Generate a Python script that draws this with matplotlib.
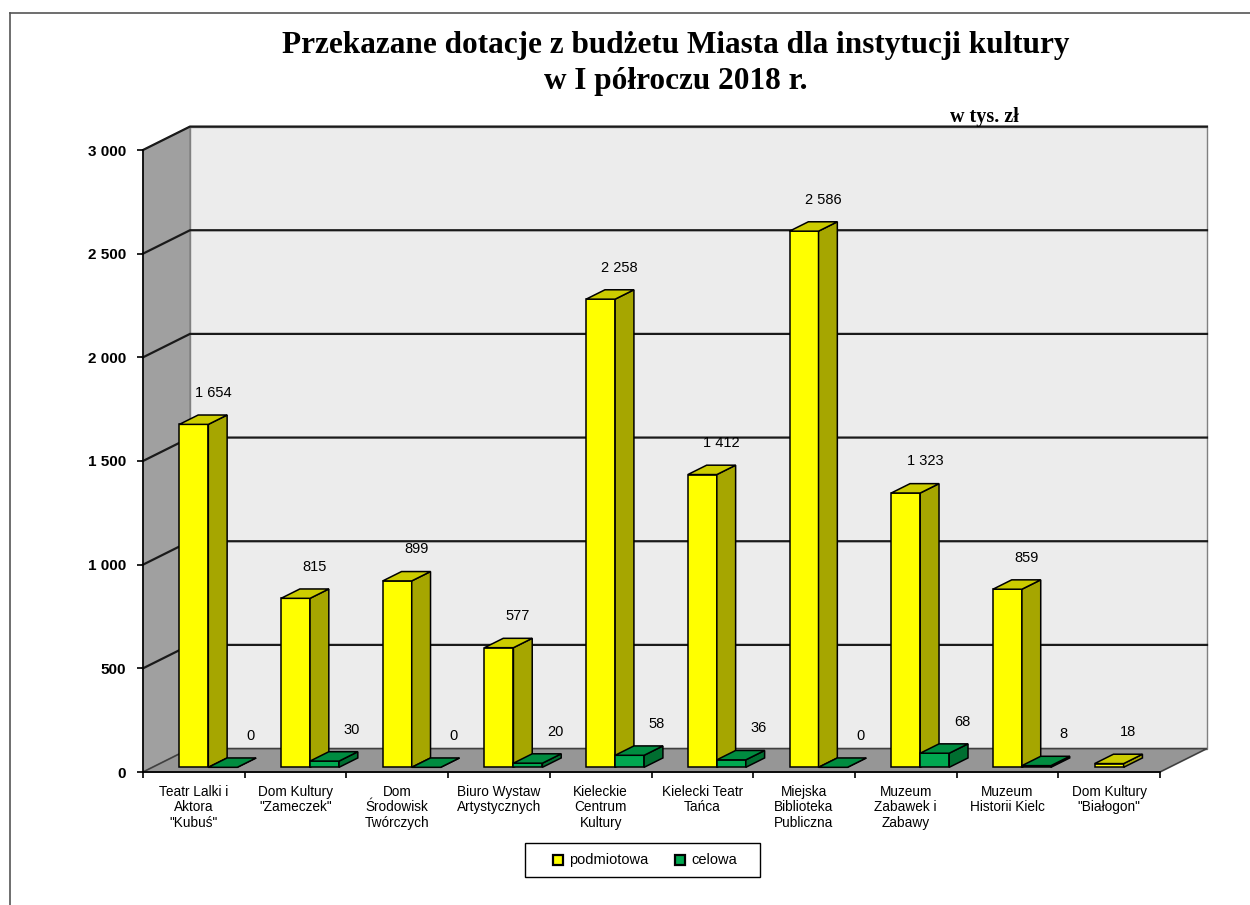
import matplotlib.pyplot as plt
from matplotlib.patches import Polygon, Rectangle
from matplotlib.lines import Line2D

categories = [
    'Teatr Lalki i\nAktora\n"Kubuś"',
    'Dom Kultury\n"Zameczek"',
    'Dom\nŚrodowisk\nTwórczych',
    'Biuro Wystaw\nArtystycznych',
    'Kieleckie\nCentrum\nKultury',
    'Kielecki Teatr\nTańca',
    'Miejska\nBiblioteka\nPubliczna',
    'Muzeum\nZabawek i\nZabawy',
    'Muzeum\nHistorii Kielc',
    'Dom Kultury\n"Białogon"',
]
podmiotowa = [1654, 815, 899, 577, 2258, 1412, 2586, 1323, 859, 18]
celowa = [0, 30, 0, 20, 58, 36, 0, 68, 8, None]
series_names = ["podmiotowa", "celowa"]
y_ticks = [0, 500, 1000, 1500, 2000, 2500, 3000]

title_lines = ["Przekazane dotacje z budżetu Miasta dla instytucji kultury",
               "w I półroczu 2018 r."]
unit = "w tys. zł"

# 3D look: depth offsets expressed in data units (x in categories, y in values)
DX = 0.462
DY = 113
D0, D1 = 0.2, 0.6
YMAX = 3000
N = len(categories)

# face colours: front, top, side
YELLOW = ("#ffff00", "#cccc00", "#a6a600")
GREEN = ("#00a850", "#008c40", "#006e30")

W, H = 1250, 905


def proj(x, v, d):
    return (x + d * DX, v + d * DY)


def face(ax, pts, fc, ec="black", lw=1.1, z=2):
    poly = Polygon([proj(*p) for p in pts], closed=True, facecolor=fc,
                   edgecolor=ec, linewidth=lw, zorder=z, clip_on=False,
                   joinstyle="miter")
    ax.add_patch(poly)


def bar3d(ax, x0, x1, v, colors, z):
    front, top, side = colors
    face(ax, [(x0, 0, D0), (x1, 0, D0), (x1, v, D0), (x0, v, D0)], front, z=z)
    face(ax, [(x1, 0, D0), (x1, 0, D1), (x1, v, D1), (x1, v, D0)], side, z=z)
    face(ax, [(x0, v, D0), (x1, v, D0), (x1, v, D1), (x0, v, D1)], top, z=z)


def fmt(v):
    return f"{v:,}".replace(",", " ")


def main():
    fig = plt.figure(figsize=(12.5, 9.05), dpi=100)
    ax = fig.add_axes([143 / W, 1 - 772 / H, 1017 / W, 622 / H])
    ax.set_xlim(-0.5, N - 0.5)
    ax.set_ylim(0, YMAX)

    # walls and floor
    L, R = -0.5, N - 0.5
    face(ax, [(L, 0, 1), (R, 0, 1), (R, YMAX, 1), (L, YMAX, 1)], "#ececec",
         ec="#808080", lw=1.0, z=0)
    face(ax, [(L, 0, 0), (L, 0, 1), (L, YMAX, 1), (L, YMAX, 0)], "#a0a0a0",
         ec="#808080", lw=1.0, z=0)
    face(ax, [(L, 0, 0), (R, 0, 0), (R, 0, 1), (L, 0, 1)], "#969696",
         ec="#404040", lw=1.2, z=0.5)

    # gridlines on left wall and back wall
    for v in y_ticks[1:]:
        pts = [proj(L, v, 0), proj(L, v, 1), proj(R, v, 1)]
        ax.plot([p[0] for p in pts], [p[1] for p in pts], color="#1a1a1a",
                lw=1.6, zorder=1, clip_on=False, solid_joinstyle="miter")

    # bars
    for i in range(N):
        bar3d(ax, i - 0.235, i + 0.05, podmiotowa[i], YELLOW, z=3 + i)
        if celowa[i] is not None:
            bar3d(ax, i + 0.05, i + 0.335, celowa[i], GREEN, z=3 + i)

    # value labels
    for i in range(N):
        cx, _ = proj(i - 0.0925, podmiotowa[i], (D0 + D1) / 2)
        ax.annotate(fmt(podmiotowa[i]), (cx, podmiotowa[i] + D1 * DY),
                    xytext=(7, 16), textcoords="offset points", ha="center",
                    va="center", fontsize=10.5, family="Liberation Sans",
                    annotation_clip=False, zorder=20)
        if celowa[i] is not None:
            cx, _ = proj(i + 0.1925, celowa[i], (D0 + D1) / 2)
            ax.annotate(fmt(celowa[i]), (cx, celowa[i] + D1 * DY),
                        xytext=(13, 16), textcoords="offset points",
                        ha="center", va="center", fontsize=10.5,
                        family="Liberation Sans", annotation_clip=False,
                        zorder=20)

    # axes: front left spine = value axis, bottom spine = floor front edge
    for s in ["top", "right"]:
        ax.spines[s].set_visible(False)
    ax.spines["left"].set_linewidth(1.2)
    ax.spines["bottom"].set_linewidth(1.2)
    ax.spines["left"].set_zorder(30)
    ax.patch.set_visible(False)

    ax.set_yticks(y_ticks)
    ax.set_yticklabels([fmt(v) for v in y_ticks], fontweight="bold",
                       fontsize=11, family="Liberation Sans")
    ax.tick_params(axis="y", direction="out", length=4, width=1.2, pad=8)

    ax.set_xticks(range(N))
    ax.set_xticklabels(categories, fontsize=9.8, family="Liberation Sans",
                       linespacing=1.18)
    ax.set_xticks([k - 0.5 for k in range(N + 1)], minor=True)
    ax.tick_params(axis="x", which="major", length=0, pad=9)
    ax.tick_params(axis="x", which="minor", direction="out", length=4,
                   width=1.2)

    # titles
    for line, yy in zip(title_lines, [45, 82]):
        fig.text(676 / W, 1 - yy / H, line, ha="center", va="center",
                 family="Liberation Serif", fontweight="bold", fontsize=22.5)
    fig.text(950 / W, 1 - 117 / H, unit, ha="left", va="center",
             family="Liberation Serif", fontweight="bold", fontsize=14.5)

    # legend, drawn as a box with two keys
    fig.add_artist(Rectangle((525 / W, 1 - 877 / H), 235 / W, 34 / H,
                             transform=fig.transFigure, facecolor="white",
                             edgecolor="black", lw=1.0))
    for name, col, mx in zip(series_names, [YELLOW[0], GREEN[0]], [558, 680]):
        fig.add_artist(Line2D([mx / W], [1 - 860 / H], ls="none", marker="s",
                              markersize=6.5, markerfacecolor=col,
                              markeredgecolor="black", mew=1.6,
                              transform=fig.transFigure))
        fig.text((mx + 11) / W, 1 - 860 / H, name, ha="left", va="center",
                 family="Liberation Sans", fontsize=10.5)

    # outer frame (left and top edges)
    fig.add_artist(Line2D([10 / W, 10 / W], [0, 1 - 13 / H],
                          transform=fig.transFigure, color="#555555", lw=1.2))
    fig.add_artist(Line2D([10 / W, 1], [1 - 13 / H, 1 - 13 / H],
                          transform=fig.transFigure, color="#555555", lw=1.2))

    fig.savefig("out.png", dpi=100)


if __name__ == "__main__":
    main()
